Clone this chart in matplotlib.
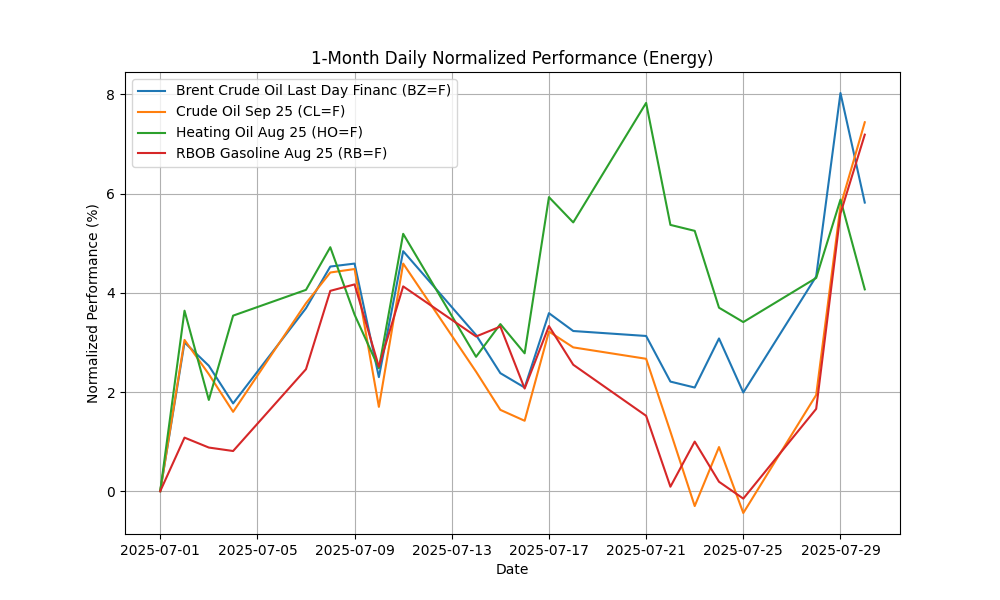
import numpy as np
import pandas as pd
import matplotlib
matplotlib.use('Agg')
import matplotlib.pyplot as plt

# 交易日期
dates = pd.to_datetime(['2025-07-01', '2025-07-02', '2025-07-03', '2025-07-04',
                        '2025-07-07', '2025-07-08', '2025-07-09', '2025-07-10',
                        '2025-07-11', '2025-07-14', '2025-07-15', '2025-07-16',
                        '2025-07-17', '2025-07-18', '2025-07-21', '2025-07-22',
                        '2025-07-23', '2025-07-24', '2025-07-25', '2025-07-28',
                        '2025-07-29', '2025-07-30'])

# 各商品標準化績效 (%)
bz = [0, 3.00, 2.53, 1.77, 3.69, 4.53, 4.59, 2.30, 4.84, 3.15, 2.38, 2.09,
      3.59, 3.23, 3.13, 2.21, 2.09, 3.08, 1.99, 4.33, 8.03, 5.82]
cl = [0, 3.05, 2.36, 1.60, 3.79, 4.41, 4.48, 1.70, 4.59, 2.41, 1.64, 1.42,
      3.22, 2.90, 2.67, 1.20, -0.30, 0.89, -0.44, 1.94, 5.75, 7.44]
ho = [0, 3.64, 1.84, 3.54, 4.06, 4.92, 3.56, 2.48, 5.19, 2.71, 3.37, 2.78,
      5.93, 5.42, 7.83, 5.37, 5.25, 3.70, 3.41, 4.30, 5.88, 4.07]
rb = [0, 1.08, 0.88, 0.81, 2.46, 4.04, 4.17, 2.51, 4.13, 3.12, 3.32, 2.07,
      3.33, 2.55, 1.52, 0.09, 1.00, 0.19, -0.15, 1.66, 5.60, 7.19]

labels = ['Brent Crude Oil Last Day Financ (BZ=F)',
          'Crude Oil Sep 25 (CL=F)',
          'Heating Oil Aug 25 (HO=F)',
          'RBOB Gasoline Aug 25 (RB=F)']

fig, ax = plt.subplots(figsize=(10, 6), dpi=100)
for values, label in zip([bz, cl, ho, rb], labels):
    ax.plot(dates, values, label=label)

ax.set_title('1-Month Daily Normalized Performance (Energy)')
ax.set_xlabel('Date')
ax.set_ylabel('Normalized Performance (%)')
ax.grid(True)
ax.legend(loc='upper left')
fig.savefig('out.png')
